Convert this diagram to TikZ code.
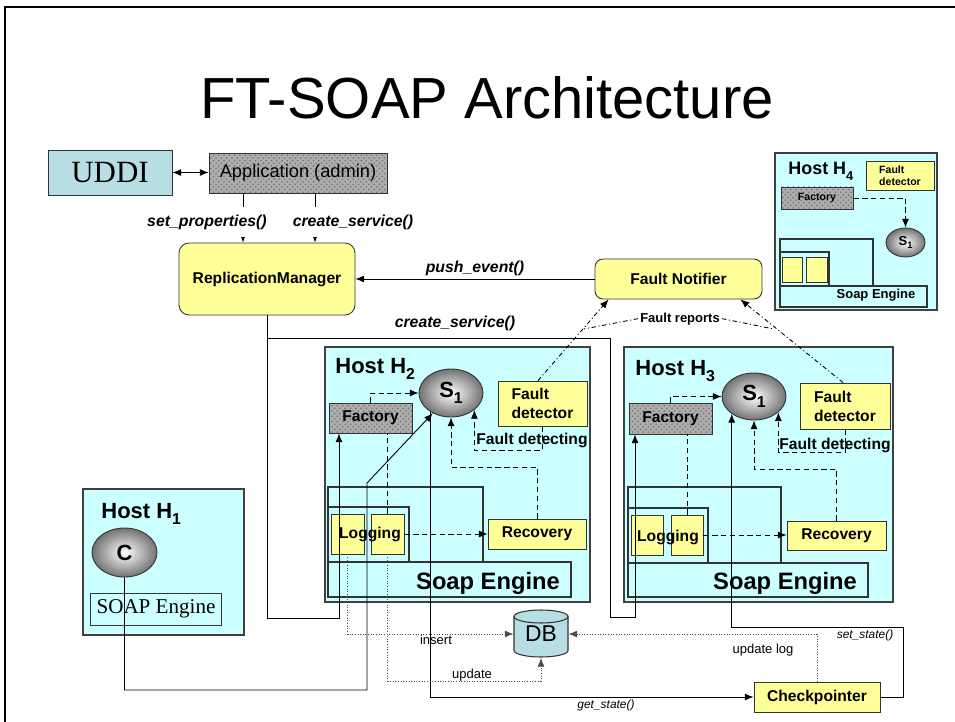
\documentclass[tikz,border=0pt]{standalone}
\usepackage{fontspec}
\setmainfont{Liberation Serif}
\setsansfont{Liberation Sans}
\usetikzlibrary{shapes.geometric,arrows.meta,patterns}

\definecolor{hostcyan}{RGB}{204,255,255}
\definecolor{paleyellow}{RGB}{255,255,153}
\definecolor{uddiblue}{RGB}{183,222,226}
\newcommand{\subidx}[1]{\raisebox{-0.3em}{\scalebox{0.72}{#1}}}

\tikzset{
  host/.style={draw=black!75, fill=hostcyan, line width=0.8pt},
  ybox/.style={draw=black!80, fill=paleyellow, inner sep=0pt, font=\sffamily\bfseries\fontsize{8.9}{10.8}\selectfont},
  grainy/.style={draw=black!80, inner sep=0pt, preaction={fill=black!32}, pattern=crosshatch dots, pattern color=black!55, font=\sffamily\bfseries\fontsize{8.9}{10.8}\selectfont},
  svc/.style={ellipse, draw=black!80, inner sep=0pt, shading=radial, inner color=white, outer color=black!55, font=\sffamily\bfseries\fontsize{12.5}{14}\selectfont},
  call/.style={font=\sffamily\bfseries\itshape\fontsize{9}{10}\selectfont},
  statecall/.style={anchor=base, font=\sffamily\itshape\fontsize{6.8}{8}\selectfont},
  note/.style={anchor=base, font=\sffamily\fontsize{7.4}{9}\selectfont},
  hostname/.style={anchor=base west, inner sep=0pt, font=\sffamily\bfseries\fontsize{12.5}{14}\selectfont},
  engine/.style={font=\sffamily\bfseries\fontsize{13.5}{15}\selectfont},
  frame/.style={draw=black!80, line width=0.6pt},
  report/.style={dash pattern=on 2.5pt off 1.5pt on 0.6pt off 1.5pt},
  logline/.style={densely dotted, draw=black!70, line width=0.5pt}
}

\begin{document}
\begin{tikzpicture}[x=0.02cm, y=-0.02cm, line width=0.5pt, >={Latex[length=5pt,width=4pt]}]
\useasboundingbox (0,0) rectangle (955,722);
\draw[line width=1pt] (5,722) -- (5,7) -- (955,7);
\node[font=\sffamily\fontsize{33}{36}\selectfont] (title) at (487,98) {FT-SOAP Architecture};

\node[draw=black!80, fill=uddiblue, minimum width=2.48cm, minimum height=0.9cm, font=\rmfamily\fontsize{17.6}{20}\selectfont] (uddi) at (110,172.5) {UDDI};
\node[grainy, minimum width=3.56cm, minimum height=0.8cm, font=\sffamily\fontsize{10.4}{12}\selectfont] (app) at (298,173) {Application (admin)};
\node[ybox, rounded corners=0.2cm, minimum width=3.52cm, minimum height=1.44cm] (repman) at (267,279) {ReplicationManager};
\node[ybox, rounded corners=0.16cm, minimum width=3.34cm, minimum height=0.8cm] (notifier) at (678.5,279) {Fault Notifier};

\node[host, minimum width=3.22cm, minimum height=2.92cm] (h1) at (163.5,562) {};
\node[host, minimum width=5.3cm, minimum height=5.1cm] (h2) at (457.5,474.5) {};
\node[host, minimum width=5.38cm, minimum height=5.1cm] (h3) at (758.5,474.5) {};
\node[host, minimum width=3.24cm, minimum height=3.14cm] (h4) at (856,231.5) {};

\node[hostname] (h1name) at (101,518) {Host H\subidx{1}};
\node[hostname] (h2name) at (335,373) {Host H\subidx{2}};
\node[hostname] (h3name) at (635,375) {Host H\subidx{3}};
\node[hostname, font=\sffamily\bfseries\fontsize{10.2}{12}\selectfont] (h4name) at (788,175) {Host H\subidx{4}};

\draw[frame] (328,487) rectangle (483,562);
\draw[frame] (328,507) rectangle (409,562);
\draw[frame] (328,562) rectangle (571,597);
\draw[frame] (628,487) rectangle (781,563);
\draw[frame] (628,508) rectangle (708,563);
\draw[frame] (628,563) rectangle (868,597);
\draw[frame] (780,239) rectangle (873,286);
\draw[frame] (780,252) rectangle (829,286);
\draw[frame] (780,286) rectangle (927,307);
\node[engine] (eng2) at (488,583) {Soap Engine};
\node[engine] (eng3) at (785,583) {Soap Engine};
\node[font=\sffamily\bfseries\fontsize{7.4}{9}\selectfont] (eng4) at (876,295) {Soap Engine};

\node[svc, minimum width=1.3cm, minimum height=0.98cm] (c) at (124.5,552.5) {C};
\node[draw=black!80, minimum width=2.56cm, minimum height=0.64cm, font=\rmfamily\fontsize{12}{14}\selectfont] (soap1) at (156,609) {SOAP Engine};

\node[svc, minimum width=1.28cm, minimum height=0.96cm] (s2) at (451,393) {S\subidx{1}};
\node[grainy, minimum width=1.66cm, minimum height=0.6cm] (fac2) at (370.5,418) {Factory};
\node[ybox, minimum width=1.78cm, minimum height=0.9cm, align=left] (fd2) at (542.5,403.5) {Fault\\detector};
\node[ybox, minimum width=0.66cm, minimum height=0.8cm] (log2a) at (347.5,534) {};
\node[ybox, minimum width=0.66cm, minimum height=0.8cm] (log2b) at (387.5,534) {};
\node[ybox, draw=none, fill=none] (logtxt2) at (370,534) {Logging};
\node[ybox, minimum width=1.96cm, minimum height=0.6cm] (rec2) at (537,534) {Recovery};
\node[ybox, draw=none, fill=none, anchor=base] (fdet2) at (532,444) {Fault detecting};

\node[svc, minimum width=1.28cm, minimum height=0.94cm] (s3) at (754,396.5) {S\subidx{1}};
\node[grainy, minimum width=1.66cm, minimum height=0.62cm] (fac3) at (670.5,418.5) {Factory};
\node[ybox, minimum width=1.8cm, minimum height=0.92cm, align=left] (fd3) at (845,406) {Fault\\detector};
\node[ybox, minimum width=0.64cm, minimum height=0.8cm] (log3a) at (647,535) {};
\node[ybox, minimum width=0.64cm, minimum height=0.8cm] (log3b) at (687,535) {};
\node[ybox, draw=none, fill=none] (logtxt3) at (668,537) {Logging};
\node[ybox, minimum width=1.98cm, minimum height=0.58cm] (rec3) at (836.5,535.5) {Recovery};
\node[ybox, draw=none, fill=none, anchor=base] (fdet3) at (835,449) {Fault detecting};

\node[svc, minimum width=0.78cm, minimum height=0.58cm, font=\sffamily\bfseries\fontsize{7.4}{8}\selectfont] (s4) at (905.5,242.5) {S\subidx{1}};
\node[grainy, minimum width=1.44cm, minimum height=0.44cm, font=\sffamily\bfseries\fontsize{6}{7}\selectfont] (fac4) at (817,198) {Factory};
\node[ybox, minimum width=1.36cm, minimum height=0.58cm, align=left, font=\sffamily\bfseries\fontsize{6}{7}\selectfont] (fd4) at (900,175.5) {Fault\\detector};
\node[ybox, minimum width=0.4cm, minimum height=0.5cm] (sq4a) at (792,269.5) {};
\node[ybox, minimum width=0.42cm, minimum height=0.5cm] (sq4b) at (816.5,269.5) {};

\draw[frame, fill=uddiblue] (514,616.5) -- (514,650.5) arc[start angle=180, end angle=0, x radius=27, y radius=6.5] -- (568,616.5) -- cycle;
\draw[frame, fill=uddiblue] (541,616.5) ellipse [x radius=27, y radius=6.5];
\node[minimum width=1.08cm, minimum height=0.94cm, inner sep=0pt, font=\sffamily\fontsize{13}{15}\selectfont] (db) at (541,634) {DB};
\node[ybox, minimum width=2.52cm, minimum height=0.6cm] (chk) at (817,697) {Checkpointer};

\draw[<->] (uddi.east) -- (uddi.east -| app.west);
\draw[->] (app.south -| 243,0) -- (repman.north -| 243,0);
\node[call, fill=white, minimum height=0.6cm] (setlbl) at (207,222) {set\_properties()};
\draw[->] (app.south -| 315,0) -- (repman.north -| 315,0);
\node[call, fill=white, minimum height=0.6cm] (createlbl) at (353,222) {create\_service()};
\draw[->] (notifier.west) -- (repman.east);
\node[call, anchor=base] (pushlbl) at (475,273) {push\_event()};

\coordinate (split) at (267,338);
\draw[->] (repman.south) |- (339,618) -- (fac2.south -| 339,0);
\draw[->] (split) -| (610,617) -| (fac3.south -| 635,0);
\node[call, anchor=base] (cslbl) at (455,327) {create\_service()};

\draw[->] (c.south) |- (367,690) -- (367,483) -- (s2.228);
\draw[->] (s2.223) |- (chk.west);
\node[statecall] (getlbl) at (606,708) {get\_state()};
\draw[->] (chk.east) -| (903,627) -| (s3.218);
\node[statecall] (setstlbl) at (865,638) {set\_state()};

\draw[densely dashed,->] (fac2.north) |- (s2.west);
\draw[densely dashed] (log2b.north) -- (fac2.south -| log2b.north);
\draw[densely dashed,->] (log2b.east) -- (rec2.west);
\draw[densely dashed,->] (rec2.north) -- (rec2.north |- 0,467) -| (s2.south);
\draw[densely dashed,->] (fd2.south) -- (fd2.south |- 0,450) -| (s2.-36);

\draw[densely dashed,->] (fac3.north) |- (s3.west);
\draw[densely dashed] (log3b.north) -- (fac3.south -| log3b.north);
\draw[densely dashed,->] (log3b.east) -- (log3b.east -| rec3.west);
\draw[densely dashed,->] (rec3.north) -- (rec3.north |- 0,469) -| (s3.south);
\draw[densely dashed,->] (fd3.south) -- (fd3.south |- 0,452) -| (s3.-33);

\draw[densely dashed,->] (fac4.east) -| (s4.north);

\draw[report,->] (fd2.north -| 538,0) -- ([xshift=0.28cm]notifier.south west);
\draw[report,->] (fd3.north -| 843,0) -- ([xshift=-0.44cm]notifier.south east);
\node[font=\sffamily\bfseries\fontsize{7.4}{9}\selectfont, anchor=base, inner sep=1pt] (freports) at (680,322) {Fault reports};
\draw[report] (freports.west) -- (584,329);
\draw[report] (freports.east) -- (774,329);

\draw[logline,->] (log2a.south) |- (db.west);
\node[note] (inslbl) at (436,644) {insert};
\draw[logline,->] (log2b.south) -- (log2b.south |- 0,681) -| (db.south);
\node[note] (updlbl) at (472,678) {update};
\draw[logline,->] (chk.north) |- (db.east);
\node[note] (updloglbl) at (763,653) {update log};
\end{tikzpicture}
\end{document}
